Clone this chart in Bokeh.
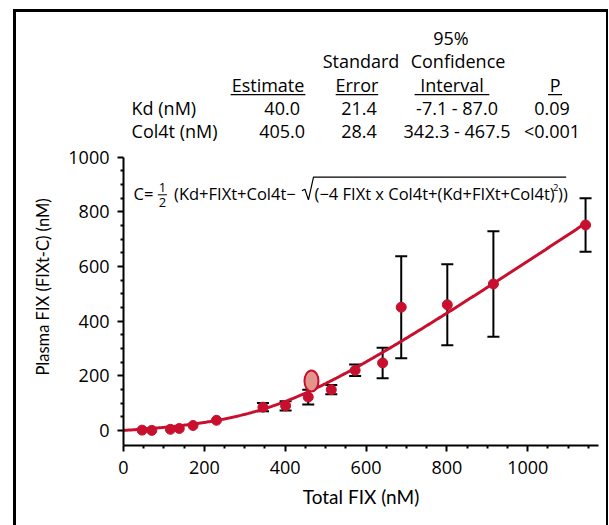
import numpy as np
from bokeh.plotting import figure
from bokeh.models import (FixedTicker, Range1d, ColumnDataSource, Whisker, TeeHead, Title)
from bokeh.core.properties import value
from bokeh.embed import file_html
from bokeh.resources import INLINE

# ---------------- data ----------------
total_fix = [46, 70, 116, 138, 172, 230, 345, 401, 457, 514, 573, 641, 687, 801, 915, 1143]
plasma_fix = [1, 0, 4, 7, 18, 37, 85, 90, 122, 149, 220, 247, 451, 460, 536, 752]
plasma_sd = [0, 0, 0, 0, 0, 0, 15, 17, 27, 17, 21, 56, 187, 148, 193, 98]
highlight_x = [465]
highlight_y = [181]

param_names = ["Kd (nM)", "Col4t (nM)"]
estimates = [40.0, 405.0]
std_errors = [21.4, 28.4]
ci_low = [-7.1, 342.3]
ci_high = [87.0, 467.5]
p_values = ["0.09", "<0.001"]

x_ticks = [0, 200, 400, 600, 800, 1000]
x_minor = [v for v in range(50, 1200, 50) if v % 200]
y_ticks = [0, 200, 400, 600, 800, 1000]
y_minor = [v for v in range(50, 1000, 50) if v % 200]

RED = "#c8102e"
FONT = "Open Sans"
COND = "Lato"

# ---------------- figure ----------------
p = figure(width=590, height=513, output_backend="svg", toolbar_location=None,
           x_range=Range1d(0, 1175), y_range=Range1d(-55.3, 1530),
           min_border_left=107, min_border_right=13, min_border_top=0, min_border_bottom=83)
p.styles = {"box-sizing": "content-box", "margin-left": "13px", "margin-top": "9px",
            "border-left": "3px solid black", "border-top": "3px solid black",
            "border-right": "2px solid black"}
p.outline_line_color = None
p.grid.visible = False

# pixel (page) -> data helpers for annotation placement
def X(px):
    return (px - 123) / 0.4

def Y(py):
    return (427 - py) / 0.27129

# axes
for ax in (p.xaxis[0], p.yaxis[0]):
    ax.axis_line_width = 2
    ax.major_tick_line_width = 2
    ax.minor_tick_line_width = 2
    ax.major_tick_out = 6
    ax.major_tick_in = 0
    ax.minor_tick_out = 3
    ax.minor_tick_in = 0
    ax.major_label_text_font = FONT
    ax.major_label_text_font_size = "18px"
    ax.major_label_text_color = "black"
    ax.axis_line_color = "black"
    ax.major_tick_line_color = "black"
    ax.minor_tick_line_color = "black"
    ax.axis_label_text_font = COND
    ax.axis_label_text_font_style = "normal"
    ax.axis_label_text_color = "black"
p.xaxis.ticker = FixedTicker(ticks=x_ticks, minor_ticks=x_minor)
p.yaxis.ticker = FixedTicker(ticks=y_ticks, minor_ticks=y_minor)
p.yaxis.bounds = (-60, 1000)
p.xaxis.major_label_standoff = 9
p.yaxis.major_label_standoff = 8
p.xaxis.axis_label = "Total FIX (nM)"
p.xaxis.axis_label_text_font_size = "19px"
p.xaxis.axis_label_standoff = 8

ytitle = Title(text="Plasma FIX (FIXt-C) (nM)", align="left", offset=70,
               text_font=COND, text_font_size="16.5px", text_font_style="normal",
               text_color="black", standoff=26)
p.add_layout(ytitle, "left")

# ---------------- data marks ----------------
Kd, Col = estimates
F = np.linspace(0, max(total_fix), 400)
S = Kd + F + Col
C = 0.5 * (S - np.sqrt(S ** 2 - 4 * F * Col))
p.line(F, F - C, line_color=RED, line_width=3)

idx = [i for i, s in enumerate(plasma_sd) if s > 0]
wsrc = ColumnDataSource(dict(x=[total_fix[i] for i in idx],
                             lo=[plasma_fix[i] - plasma_sd[i] for i in idx],
                             hi=[plasma_fix[i] + plasma_sd[i] for i in idx]))
w = Whisker(source=wsrc, base="x", lower="lo", upper="hi", level="underlay",
            line_color="black", line_width=2,
            upper_head=TeeHead(size=12, line_width=2, line_color="black"),
            lower_head=TeeHead(size=12, line_width=2, line_color="black"))
p.add_layout(w)

p.ellipse(highlight_x, highlight_y, width=14, height=21, width_units="screen",
          height_units="screen", fill_color="#e3958c", line_color=RED, line_width=2)
p.scatter(total_fix, plasma_fix, size=10, fill_color=RED, line_color=RED)

# ---------------- table ----------------
def txt(xs, ys, texts, align="center", size="18px"):
    p.text(x=xs, y=ys, text=texts, text_align=align, text_baseline="middle",
           text_font=value(FONT), text_font_size=size, text_color="black")

txt([X(447)], [Y(37)], ["95%"])
txt([X(358), X(454)], [Y(60)] * 2, ["Standard", "Confidence"])
hdr_x = [X(266), X(354), X(448), X(550)]
txt(hdr_x, [Y(84)] * 4, ["Estimate", "Error", "Interval", "P"])
ul_half = [37, 21, 37, 7]
p.segment(x0=[hx - X(123 + h) for hx, h in zip(hdr_x, ul_half)],
          x1=[hx + X(123 + h) for hx, h in zip(hdr_x, ul_half)],
          y0=[Y(93.5)] * 4, y1=[Y(93.5)] * 4, line_color="black", line_width=1.3)
row_y = [Y(107), Y(130)]
txt([X(131)] * 2, row_y, param_names, align="left")
txt([X(280)] * 2, row_y, [f"{v:.1f}" for v in estimates])
txt([X(356)] * 2, row_y, [f"{v:.1f}" for v in std_errors])
txt([X(453)] * 2, row_y, [f"{a:.1f} - {b:.1f}" for a, b in zip(ci_low, ci_high)])
txt([X(547)] * 2, row_y, p_values)

# ---------------- equation ----------------
EQ = "16.5px"
txt([X(133)], [Y(192)], ["C="], align="left", size=EQ)
txt([X(161.5)], [Y(186)], ["1"], size="13px")
txt([X(161.5)], [Y(201)], ["2"], size="13px")
p.segment(x0=[X(157)], x1=[X(166)], y0=[Y(193)], y1=[Y(193)], line_color="black", line_width=1)
txt([X(173)], [Y(192)], ["(Kd+FIXt+Col4t\u2212"], align="left", size=EQ)
p.line([X(v) for v in (299.5, 302.5, 306, 311, 561)],
       [Y(v) for v in (189, 187.5, 198, 175.5, 175.5)], line_color="black", line_width=1.2)
txt([X(312)], [Y(192)], ["(\u22124 FIXt x Col4t+(Kd+FIXt+Col4t)"], align="left", size=EQ)
txt([X(548)], [Y(186)], ["2"], align="left", size="9.5px")
txt([X(553)], [Y(192)], ["))"], align="left", size=EQ)

open("out.html", "w").write(file_html(p, INLINE))
